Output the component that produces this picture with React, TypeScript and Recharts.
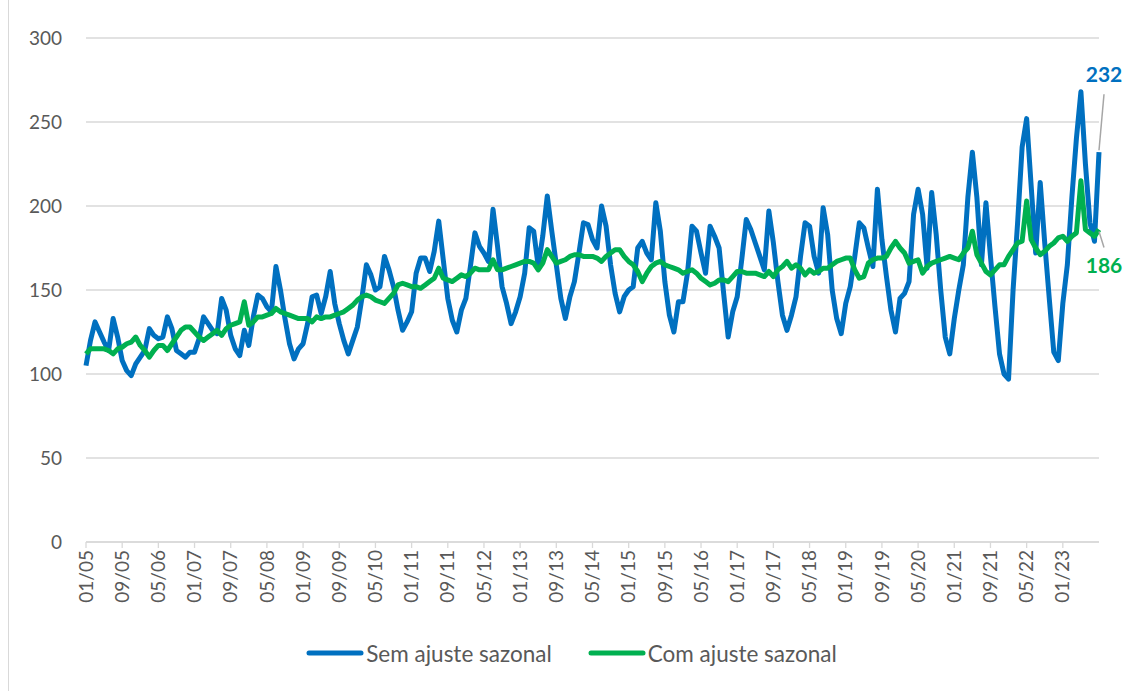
import { CartesianGrid, Legend, Line, LineChart, XAxis, YAxis } from "recharts";

// Monthly index, 01/2005 .. 09/2023
const SEM_AJUSTE = [
  105, 120, 131, 125, 119, 114, 133, 122, 108, 102, 99, 106,
  110, 114, 127, 123, 121, 122, 134, 127, 114, 112, 110, 113,
  113, 121, 134, 130, 126, 124, 145, 138, 123, 115, 111, 126,
  117, 134, 147, 145, 140, 137, 164, 150, 133, 118, 109, 115,
  118, 130, 146, 147, 136, 146, 161, 142, 130, 120, 112, 120,
  128, 145, 165, 159, 150, 152, 170, 162, 152, 138, 126, 131,
  137, 160, 169, 169, 161, 173, 191, 168, 145, 132, 125, 138,
  145, 164, 184, 176, 172, 167, 198, 176, 152, 142, 130, 137,
  146, 160, 187, 185, 164, 182, 206, 185, 165, 145, 133, 146,
  155, 172, 190, 189, 180, 175, 200, 188, 165, 148, 137, 146,
  150, 152, 175, 179, 172, 168, 202, 185, 155, 135, 125, 143,
  143, 160, 188, 185, 172, 160, 188, 182, 175, 148, 122, 137,
  146, 168, 192, 186, 178, 170, 162, 197, 178, 155, 135, 126,
  135, 146, 170, 190, 188, 170, 160, 199, 183, 150, 133, 124,
  142, 152, 170, 190, 187, 175, 164, 210, 180, 158, 138, 125,
  145, 148, 155, 195, 210, 195, 163, 208, 183, 150, 122, 112,
  133, 150, 165, 205, 232, 205, 165, 202, 170, 140, 112, 100,
  97, 150, 190, 235, 252, 212, 172, 214, 178, 145, 113, 108,
  142, 165, 205, 240, 268, 225, 190, 179, 232,
];

const COM_AJUSTE = [
  112, 115, 115, 115, 115, 114, 112, 115, 116, 118, 119, 122,
  117, 114, 110, 114, 117, 117, 114, 118, 122, 126, 128, 128,
  125, 122, 120, 122, 124, 126, 123, 127, 129, 130, 131, 143,
  129, 131, 134, 134, 135, 136, 139, 137, 136, 135, 134, 133,
  133, 133, 131, 134, 133, 134, 134, 135, 136, 137, 139, 141,
  144, 146, 147, 146, 144, 143, 142, 145, 148, 153, 154, 153,
  152, 152, 151, 153, 155, 157, 163, 157, 156, 155, 157, 159,
  158, 160, 163, 162, 162, 162, 168, 162, 162, 163, 164, 165,
  166, 167, 167, 166, 162, 166, 174, 170, 166, 167, 168, 170,
  171, 171, 170, 170, 170, 169, 167, 170, 172, 174, 174, 170,
  167, 165, 161, 155, 160, 164, 166, 167, 165, 164, 163, 162,
  160, 161, 162, 160, 157, 155, 153, 154, 156, 156, 155, 158,
  161, 161, 160, 160, 160, 159, 158, 161, 158, 162, 164, 167,
  163, 165, 163, 159, 162, 160, 161, 163, 163, 165, 167, 168,
  169, 169, 162, 157, 158, 166, 168, 169, 169, 170, 175, 179,
  175, 172, 166, 167, 168, 160, 164, 166, 167, 168, 169, 170,
  169, 168, 172, 175, 185, 171, 166, 161, 159, 162, 165, 165,
  170, 174, 178, 179, 203, 180, 175, 171, 173, 176, 178, 181,
  182, 179, 182, 184, 215, 186, 184, 182, 186,
];

const Y_TICKS = [0, 50, 100, 150, 200, 250, 300];

const X_TICKS = [
  "01/05", "09/05", "05/06", "01/07", "09/07", "05/08", "01/09", "09/09",
  "05/10", "01/11", "09/11", "05/12", "01/13", "09/13", "05/14", "01/15",
  "09/15", "05/16", "01/17", "09/17", "05/18", "01/19", "09/19", "05/20",
  "01/21", "09/21", "05/22", "01/23",
];

const LABELS = SEM_AJUSTE.map((_, i) => {
  const m = (i % 12) + 1;
  const y = 5 + Math.floor(i / 12);
  return `${String(m).padStart(2, "0")}/${String(y).padStart(2, "0")}`;
});

const data = LABELS.map((label, i) => ({
  label,
  sem: SEM_AJUSTE[i],
  com: COM_AJUSTE[i],
}));

const LAST = data.length - 1;
const FONT = "Lato, 'Open Sans', sans-serif";
const TEXT = "#595959";
const GRID = "#d9d9d9";
const BLUE = "#0070C0";
const GREEN = "#00B050";

const SERIES = [
  { name: "Sem ajuste sazonal", color: BLUE },
  { name: "Com ajuste sazonal", color: GREEN },
];

function XTick({ x, y, payload }: any) {
  return (
    <g transform={`translate(${x},${y})`}>
      <text
        transform="rotate(-90)"
        textAnchor="end"
        dy="0.35em"
        fontFamily={FONT}
        fontSize={19}
        fill={TEXT}
      >
        {payload.value}
      </text>
    </g>
  );
}

function endLabel(color: string, textDy: number, lineFrom: number, lineTo: number) {
  return (props: any) => {
    const { x, y, index, value } = props;
    if (index !== LAST) return null;
    return (
      <g>
        <line x1={x} y1={y + lineFrom} x2={x + 5} y2={y + lineTo} stroke="#a6a6a6" strokeWidth={1.5} />
        <text
          x={x + 5}
          y={y + textDy}
          textAnchor="middle"
          dominantBaseline="central"
          fontFamily={FONT}
          fontSize={21}
          fontWeight="bold"
          fill={color}
        >
          {value}
        </text>
      </g>
    );
  };
}

const renderLegend = () => (
  <div
    style={{
      display: "flex",
      justifyContent: "center",
      alignItems: "center",
      height: 30,
      fontFamily: FONT,
      fontSize: 22.5,
      color: TEXT,
      gap: 36,
    }}
  >
    {SERIES.map((s) => (
      <div key={s.name} style={{ display: "flex", alignItems: "center" }}>
        <svg width={58} height={10}>
          <line x1={3} y1={5} x2={55} y2={5} stroke={s.color} strokeWidth={5} strokeLinecap="round" />
        </svg>
        <span style={{ marginLeft: 2 }}>{s.name}</span>
      </div>
    ))}
  </div>
);

export default function App() {
  return (
    <div style={{ position: "absolute", top: 0, left: 0, width: 1130, height: 691, background: "#fff" }}>
      <div style={{ position: "absolute", left: 8, top: 0, width: 1, height: 691, background: GRID }} />
      <LineChart
        width={1130}
        height={691}
        data={data}
        margin={{ top: 38, right: 31, bottom: 23, left: 0 }}
      >
        <CartesianGrid horizontal vertical={false} stroke={GRID} strokeWidth={1.3} />
        <XAxis
          dataKey="label"
          ticks={X_TICKS}
          interval={0}
          height={96}
          tick={<XTick />}
          tickSize={6}
          tickMargin={2}
          axisLine={{ stroke: GRID, strokeWidth: 1.3 }}
          tickLine={{ stroke: GRID, strokeWidth: 1.3 }}
        />
        <YAxis
          domain={[0, 300]}
          ticks={Y_TICKS}
          width={86}
          axisLine={false}
          tickLine={false}
          tickSize={0}
          tickMargin={24}
          tick={{ fontFamily: FONT, fontSize: 19, fill: TEXT }}
        />
        <Legend verticalAlign="bottom" content={renderLegend} wrapperStyle={{ left: 0, width: 1143 }} />
        <Line
          type="linear"
          dataKey="sem"
          name="Sem ajuste sazonal"
          stroke={BLUE}
          strokeWidth={5}
          dot={false}
          strokeLinejoin="round"
          isAnimationActive={false}
          label={endLabel(BLUE, -79, -2, -58)}
        />
        <Line
          type="linear"
          dataKey="com"
          name="Com ajuste sazonal"
          stroke={GREEN}
          strokeWidth={5}
          dot={false}
          strokeLinejoin="round"
          isAnimationActive={false}
          label={endLabel(GREEN, 35, 2, 18)}
        />
      </LineChart>
    </div>
  );
}
